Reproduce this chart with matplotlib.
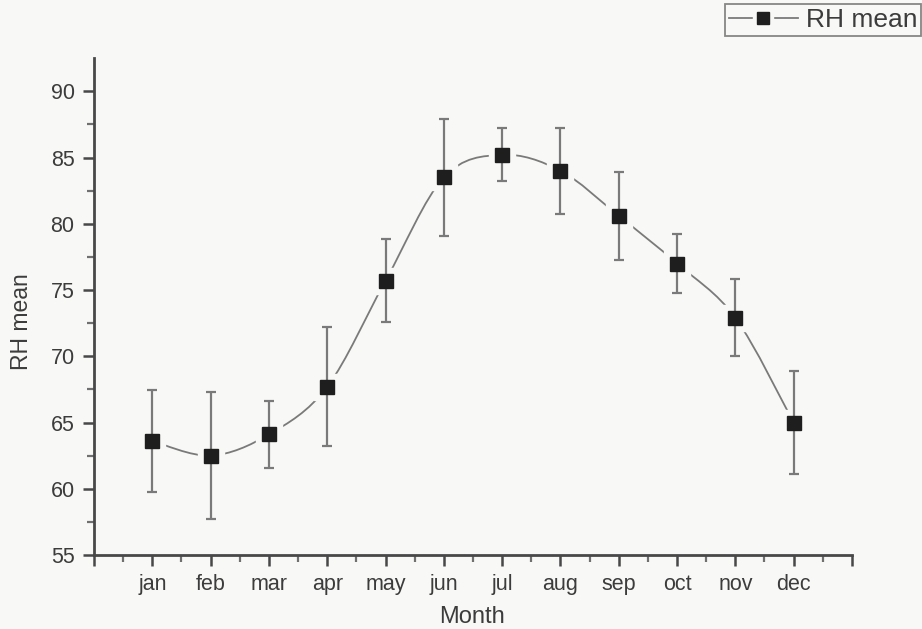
import numpy as np
import matplotlib
matplotlib.use("Agg")
import matplotlib.pyplot as plt
from matplotlib.path import Path
from matplotlib.patches import PathPatch
from matplotlib.lines import Line2D
from matplotlib.ticker import MultipleLocator

plt.rcParams['font.family'] = ['Liberation Sans', 'DejaVu Sans']

# monthly relative humidity
months = ["jan", "feb", "mar", "apr", "may", "jun",
          "jul", "aug", "sep", "oct", "nov", "dec"]
month_num = [1, 2, 3, 4, 5, 6, 7, 8, 9, 10, 11, 12]
rh_mean = [63.6, 62.5, 64.1, 67.7, 75.7, 83.5, 85.2, 84.0, 80.6, 77.0, 72.9, 65.0]
rh_err = [3.85, 4.8, 2.5, 4.5, 3.15, 4.4, 2.0, 3.25, 3.3, 2.25, 2.9, 3.9]

BG = "#f8f8f6"
LINE_GREY = "#7a7a7a"
TEXT = "#3c3c3c"

fig = plt.figure(figsize=(9.22, 6.29), dpi=100, facecolor=BG)
ax = fig.add_axes([0.102, 0.1176, 0.822, 0.790])
ax.set_facecolor(BG)

# smooth curve through the means (catmull-rom as cubic bezier segments)
x = np.array(month_num, dtype=float)
y = np.array(rh_mean, dtype=float)
pts = np.column_stack([x, y])
ext = np.vstack([pts[0], pts, pts[-1]])
verts = [tuple(pts[0])]
codes = [Path.MOVETO]
for i in range(len(pts) - 1):
    p0, p1, p2, p3 = ext[i], ext[i + 1], ext[i + 2], ext[i + 3]
    c1 = p1 + (p2 - p0) / 6.0
    c2 = p2 - (p3 - p1) / 6.0
    verts += [tuple(c1), tuple(c2), tuple(p2)]
    codes += [Path.CURVE4, Path.CURVE4, Path.CURVE4]
curve = PathPatch(Path(verts, codes), facecolor="none", edgecolor=LINE_GREY,
                  lw=1.3, zorder=1, transform=ax.transData)
ax.add_patch(curve)

# background squares open a small gap in the curve round each symbol
ax.plot(x, y, ls="none", marker="s", ms=19, color=BG, zorder=2)

ax.errorbar(x, y, yerr=rh_err, fmt="none", ecolor=LINE_GREY, elinewidth=1.6,
            capsize=3.8, capthick=1.6, zorder=3)
ax.plot(x, y, ls="none", marker="s", ms=9.5, color="#1e1e1e", zorder=4)

ax.set_xlim(0, 13)
ax.set_ylim(55, 92.5)

ax.set_xticks(range(0, 14))
ax.set_xticklabels([""] + months + [""])
ax.xaxis.set_minor_locator(MultipleLocator(0.5))
ax.yaxis.set_major_locator(MultipleLocator(5))
ax.set_yticks(np.arange(57.5, 90, 5), minor=True)

for s in ["top", "right"]:
    ax.spines[s].set_visible(False)
for s in ["left", "bottom"]:
    ax.spines[s].set_color("#484848")
    ax.spines[s].set_linewidth(2)

ax.tick_params(axis="both", which="major", direction="out", length=8, width=1.8,
               color="#484848", labelsize=15.5, labelcolor=TEXT)
ax.tick_params(axis="x", which="major", pad=6)
ax.tick_params(axis="y", which="major", pad=6)
ax.tick_params(axis="both", which="minor", direction="out", length=5, width=1.6,
               color="#707070")

ax.set_xlabel("Month", fontsize=17, color=TEXT)
ax.xaxis.set_label_coords(0.499, -0.102)
ax.set_ylabel("RH mean", fontsize=16.5, color=TEXT)
ax.yaxis.set_label_coords(-0.080, 0.47)

# legend symbol: line with a gap round the square
h_line = Line2D([], [], color=LINE_GREY, lw=1.3)
h_gap = Line2D([], [], ls="none", marker="s", ms=15, color=BG)
h_mark = Line2D([], [], ls="none", marker="s", ms=8.5, color="#1e1e1e")
leg = fig.legend([(h_line, h_gap, h_mark)], ["RH mean"], loc="upper right",
                 bbox_to_anchor=(0.999, 0.993), fontsize=19, frameon=True,
                 fancybox=False, edgecolor="#6a6a6a", facecolor=BG,
                 handlelength=2.6, handletextpad=0.3, borderpad=0.15,
                 borderaxespad=0.0, labelcolor=TEXT)
leg.get_frame().set_linewidth(1.3)

fig.savefig("out.png", dpi=100, facecolor=BG)
